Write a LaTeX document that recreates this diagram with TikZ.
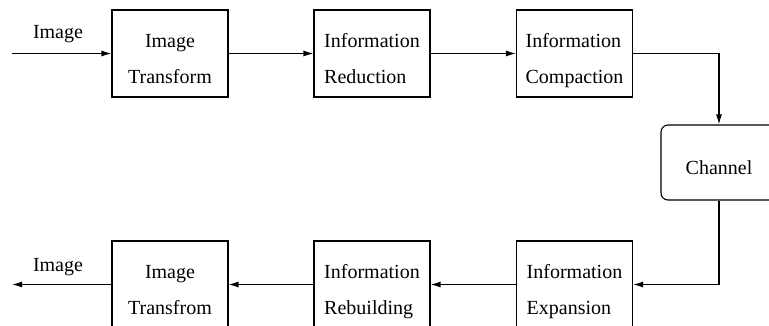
\documentclass[tikz,border=0pt]{standalone}
\usepackage{fontspec}
\setmainfont{Liberation Serif}
\usetikzlibrary{arrows.meta}
\newcommand\myTop{\rule{0pt}{29pt}}
\newcommand\myBot{\rule[-6pt]{0pt}{6pt}}
\begin{document}
\begin{tikzpicture}[x=1pt,y=-1pt,
  blk/.style={draw, line width=1.1pt, minimum width=116pt, minimum height=87pt, inner sep=0pt, font=\fontsize{20}{36}\selectfont},
  blkc/.style={blk, align=center},
  blkl/.style={blk, align=left},
  chan/.style={draw, line width=1.1pt, rounded corners=7pt, minimum width=116pt, minimum height=75pt, inner sep=0pt, font=\fontsize{20}{24}\selectfont},
  lbl/.style={font=\fontsize{20}{24}\selectfont, anchor=base, inner sep=0pt},
  conn/.style={line width=1.2pt, -{Latex[length=10pt,width=6pt]}},
]
\useasboundingbox (0,0) rectangle (769,325);
\clip (0,0) rectangle (769,325);
\node[blkc] (b1) at (170,53.5) {\myTop Image\\Transform\myBot};
\node[blkl] (b2) at (372,53.5) {\myTop Information\\Reduction\myBot};
\node[blkl] (b3) at (574.5,53.5) {\myTop Information\\Compaction\myBot};
\node[chan] (ch) at (719,162.5) {\rule{0pt}{25pt}Channel};
\node[blkl] (e) at (574.5,284.5) {\myTop Information\\Expansion\myBot};
\node[blkl] (r) at (372,284.5) {\myTop Information\\Rebuilding\myBot};
\node[blkc] (t) at (170,284.5) {\myTop Image\\Transfrom\myBot};
\coordinate (in) at (12,53.5);
\coordinate (out) at (12,284.5);
\node[lbl] (lin) at (58,38) {Image};
\node[lbl] (lout) at (58,271) {Image};
\draw[conn] (in) -- (b1);
\draw[conn] (b1) -- (b2);
\draw[conn] (b2) -- (b3);
\draw[conn] (b3.east) -| (ch.north);
\draw[conn] (ch.south) |- (e.east);
\draw[conn] (e) -- (r);
\draw[conn] (r) -- (t);
\draw[conn] (t) -- (out);
\end{tikzpicture}
\end{document}
